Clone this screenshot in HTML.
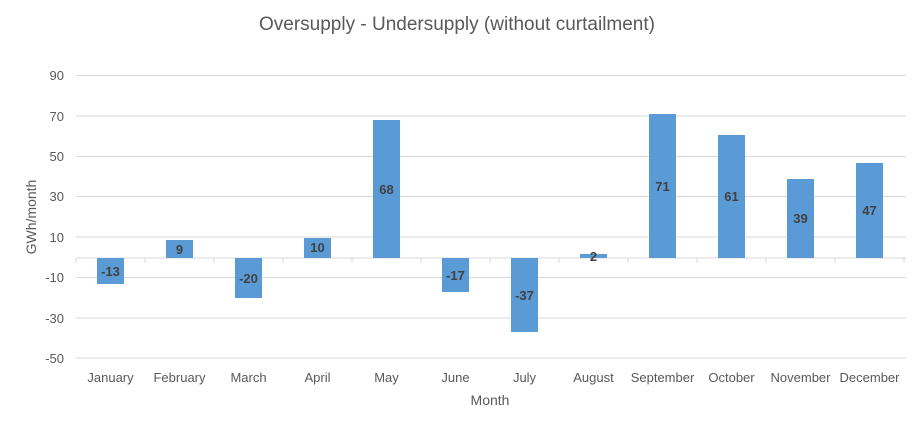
<!DOCTYPE html>
<html><head><style>body{margin:0;background:#fff}</style></head><body>
<svg width="914" height="419" xmlns="http://www.w3.org/2000/svg" font-family="Liberation Sans, sans-serif">
<rect width="914" height="419" fill="#fff"/>
<text x="457" y="30" text-anchor="middle" font-size="19" fill="#595959">Oversupply - Undersupply (without curtailment)</text>
<g stroke="#d9d9d9" stroke-width="1">
<line x1="76" x2="906" y1="75.5" y2="75.5"/>
<line x1="76" x2="906" y1="116" y2="116"/>
<line x1="76" x2="906" y1="156.5" y2="156.5"/>
<line x1="76" x2="906" y1="196.5" y2="196.5"/>
<line x1="76" x2="906" y1="237" y2="237"/>
<line x1="76" x2="906" y1="277.5" y2="277.5"/>
<line x1="76" x2="906" y1="318" y2="318"/>
<line x1="76" x2="906" y1="358" y2="358"/>
<line x1="76" x2="906" y1="258" y2="258"/>
</g>
<g stroke="#d9d9d9"><line x1="76" x2="76" y1="258" y2="263"/><line x1="145" x2="145" y1="258" y2="263"/><line x1="214" x2="214" y1="258" y2="263"/><line x1="283" x2="283" y1="258" y2="263"/><line x1="352" x2="352" y1="258" y2="263"/><line x1="421" x2="421" y1="258" y2="263"/><line x1="490" x2="490" y1="258" y2="263"/><line x1="559" x2="559" y1="258" y2="263"/><line x1="628" x2="628" y1="258" y2="263"/><line x1="697" x2="697" y1="258" y2="263"/><line x1="766" x2="766" y1="258" y2="263"/><line x1="835" x2="835" y1="258" y2="263"/><line x1="904" x2="904" y1="258" y2="263"/></g>
<g font-size="13" fill="#595959" text-anchor="end">
<text x="64" y="80">90</text><text x="64" y="121">70</text><text x="64" y="161">50</text><text x="64" y="201">30</text><text x="64" y="242">10</text><text x="64" y="282">-10</text><text x="64" y="323">-30</text><text x="64" y="363">-50</text>
</g>
<text transform="translate(36,217) rotate(-90)" text-anchor="middle" font-size="14" fill="#595959">GWh/month</text>
<text x="490" y="405" text-anchor="middle" font-size="14" fill="#595959">Month</text>
<g fill="#5b9bd5">
<rect x="97" y="258" width="27" height="26"/>
<rect x="166" y="240" width="27" height="18"/>
<rect x="235" y="258" width="27" height="40"/>
<rect x="304" y="238" width="27" height="20"/>
<rect x="373" y="120" width="27" height="138"/>
<rect x="442" y="258" width="27" height="34"/>
<rect x="511" y="258" width="27" height="74"/>
<rect x="580" y="254" width="27" height="4"/>
<rect x="649" y="114" width="27" height="144"/>
<rect x="718" y="135" width="27" height="123"/>
<rect x="787" y="179" width="27" height="79"/>
<rect x="856" y="163" width="27" height="95"/>
</g>
<g font-size="13" font-weight="bold" fill="#404040" text-anchor="middle">
<text x="110.5" y="276">-13</text><text x="179.5" y="254">9</text><text x="248.5" y="283">-20</text><text x="317.5" y="252">10</text><text x="386.5" y="194">68</text><text x="455.5" y="280">-17</text><text x="524.5" y="300">-37</text><text x="593.5" y="261">2</text><text x="662.5" y="191">71</text><text x="731.5" y="201">61</text><text x="800.5" y="223">39</text><text x="869.5" y="215">47</text>
</g>
<g font-size="13" fill="#595959" text-anchor="middle">
<text x="110.5" y="382">January</text><text x="179.5" y="382">February</text><text x="248.5" y="382">March</text><text x="317.5" y="382">April</text><text x="386.5" y="382">May</text><text x="455.5" y="382">June</text><text x="524.5" y="382">July</text><text x="593.5" y="382">August</text><text x="662.5" y="382">September</text><text x="731.5" y="382">October</text><text x="800.5" y="382">November</text><text x="869.5" y="382">December</text>
</g>
</svg>
</body></html>
